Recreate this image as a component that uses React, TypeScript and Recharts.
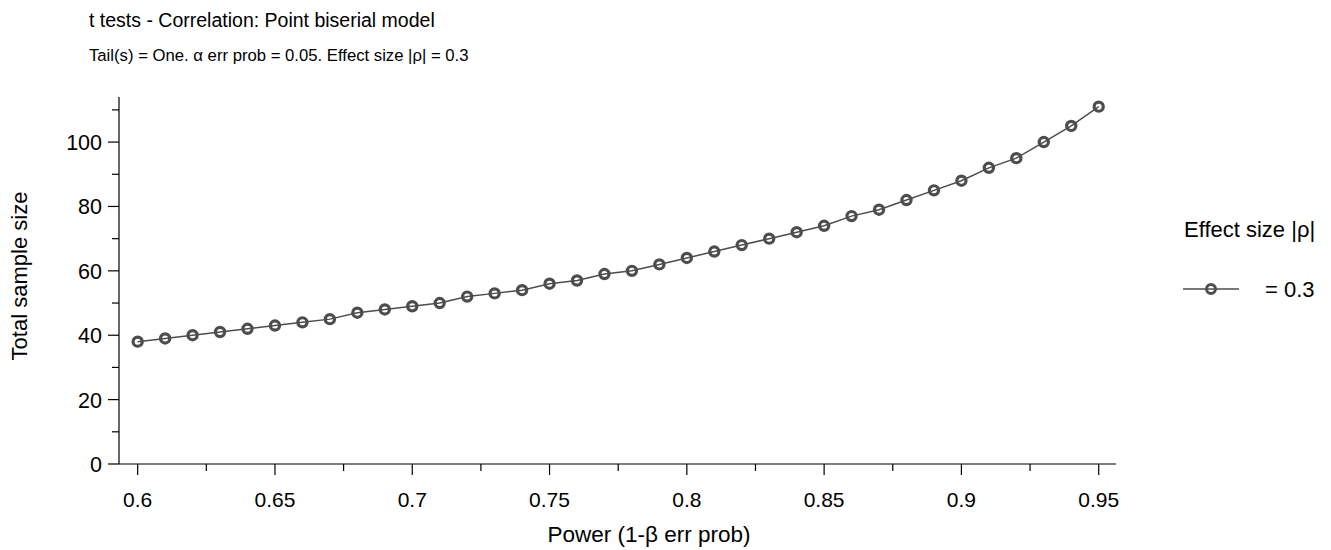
import { LineChart, Line, XAxis, YAxis, Legend, Label } from 'recharts'

const power = [
  0.6, 0.61, 0.62, 0.63, 0.64, 0.65, 0.66, 0.67, 0.68, 0.69, 0.7, 0.71,
  0.72, 0.73, 0.74, 0.75, 0.76, 0.77, 0.78, 0.79, 0.8, 0.81, 0.82, 0.83,
  0.84, 0.85, 0.86, 0.87, 0.88, 0.89, 0.9, 0.91, 0.92, 0.93, 0.94, 0.95,
]
const totalSampleSize = [
  38, 39, 40, 41, 42, 43, 44, 45, 47, 48, 49, 50,
  52, 53, 54, 56, 57, 59, 60, 62, 64, 66, 68, 70,
  72, 74, 77, 79, 82, 85, 88, 92, 95, 100, 105, 111,
]
const xTicks = [0.6, 0.625, 0.65, 0.675, 0.7, 0.725, 0.75, 0.775, 0.8, 0.825, 0.85, 0.875, 0.9, 0.925, 0.95]
const xLabels = [0.6, 0.65, 0.7, 0.75, 0.8, 0.85, 0.9, 0.95]
const yTicks = [0, 10, 20, 30, 40, 50, 60, 70, 80, 90, 100, 110]
const yLabels = [0, 20, 40, 60, 80, 100]
const seriesName = '= 0.3'

const title = 't tests - Correlation: Point biserial model'
const subtitle = 'Tail(s) = One. α err prob = 0.05. Effect size |ρ| = 0.3'
const legendTitle = 'Effect size |ρ|'

const data = power.map((p, i) => ({ power: p, n: totalSampleSize[i] }))

const FONT = '"Liberation Sans", Arial, sans-serif'
const LINE = '#4d4d4d'

function XTick({ x, y, payload }: any) {
  const major = xLabels.includes(payload.value)
  return (
    <g>
      <line x1={x} x2={x} y1={y} y2={y + (major ? 11 : 7)} stroke="#000" strokeWidth={1.2} />
      {major && (
        <text x={x} y={y + 43} textAnchor="middle" fontSize={21} fill="#000" fontFamily={FONT}>
          {payload.value}
        </text>
      )}
    </g>
  )
}

function YTick({ x, y, payload }: any) {
  const major = yLabels.includes(payload.value)
  return (
    <g>
      <line x1={x - (major ? 11 : 7)} x2={x} y1={y} y2={y} stroke="#000" strokeWidth={1.2} />
      {major && (
        <text x={x - 17} y={y + 8} textAnchor="end" fontSize={21.5} fill="#000" fontFamily={FONT}>
          {payload.value}
        </text>
      )}
    </g>
  )
}

function LegendBox({ payload }: any) {
  const item = payload && payload[0]
  return (
    <svg width={156} height={100} style={{ overflow: 'visible' }}>
      <text x={9} y={32} fontSize={22} fill="#000" fontFamily={FONT}>{legendTitle}</text>
      <line x1={8} x2={64} y1={84} y2={84} stroke={LINE} strokeWidth={1.5} />
      <circle cx={36} cy={84} r={4.5} fill="none" stroke={LINE} strokeWidth={3} />
      <text x={90} y={92} fontSize={22} fill="#000" fontFamily={FONT}>{item ? item.value : seriesName}</text>
    </svg>
  )
}

export default function App() {
  return (
    <div style={{ position: 'absolute', left: 0, top: 0, width: 1331, height: 550, fontFamily: FONT, background: '#fff' }}>
      <svg width={1331} height={80} style={{ position: 'absolute', left: 0, top: 0 }}>
        <text x={89} y={27} fontSize={19.5} fill="#000" fontFamily={FONT}>{title}</text>
        <text x={89} y={61} fontSize={16.7} fill="#000" fontFamily={FONT}>{subtitle}</text>
      </svg>
      <LineChart width={1331} height={550} data={data} margin={{ top: 97, right: 215, bottom: 0, left: 0 }}>
        <XAxis
          dataKey="power"
          type="number"
          domain={[0.5932, 0.9563]}
          ticks={xTicks}
          interval={0}
          height={86}
          tickSize={0}
          tickMargin={0}
          tickLine={false}
          axisLine={{ stroke: '#000', strokeWidth: 1.2 }}
          tick={<XTick />}
        >
          <Label
            content={() => (
              <text x={649} y={542} textAnchor="middle" fontSize={22.5} fill="#000" fontFamily={FONT}>
                Power (1-β err prob)
              </text>
            )}
          />
        </XAxis>
        <YAxis
          type="number"
          domain={[0, 114]}
          ticks={yTicks}
          interval={0}
          width={119}
          tickSize={0}
          tickMargin={0}
          tickLine={false}
          axisLine={{ stroke: '#000', strokeWidth: 1.2 }}
          tick={<YTick />}
        >
          <Label
            content={() => (
              <text x={27} y={276} transform="rotate(-90 27 276)" textAnchor="middle" fontSize={22} fill="#000" fontFamily={FONT}>
                Total sample size
              </text>
            )}
          />
        </YAxis>
        <Legend
          layout="vertical"
          align="center"
          verticalAlign="middle"
          content={<LegendBox />}
          wrapperStyle={{ position: 'absolute', left: 1175, top: 205, width: 156, height: 100 }}
        />
        <Line
          type="linear"
          dataKey="n"
          name={seriesName}
          stroke={LINE}
          strokeWidth={1.5}
          dot={{ r: 4.6, fill: 'none', stroke: LINE, strokeWidth: 3.2 }}
          activeDot={false}
          isAnimationActive={false}
        />
      </LineChart>
    </div>
  )
}
